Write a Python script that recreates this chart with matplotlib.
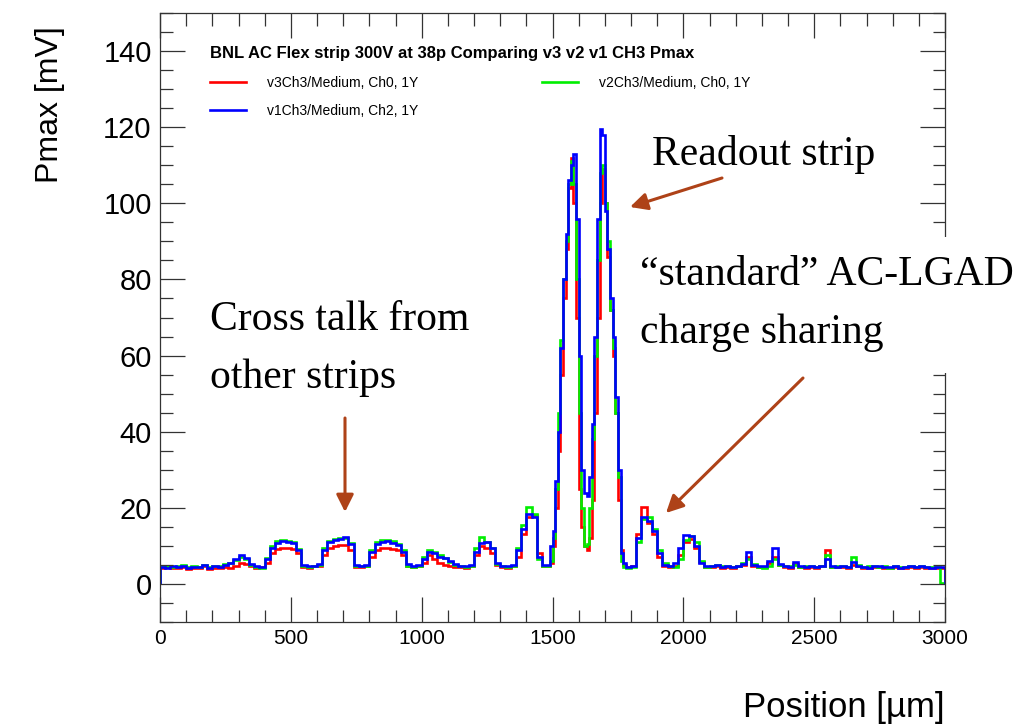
import numpy as np
import matplotlib.pyplot as plt
from matplotlib.patches import Rectangle
from matplotlib.ticker import MultipleLocator

# histogram binning (um): 20 um bins, 10 um bins around the readout strip
x_min, x_max = 0, 3000
fine_lo, fine_hi = 1480, 1780

# Pmax [mV] per bin
# 0 - 1480 um (20 um bins)
v3_left = [4.2, 4.4, 4.3, 4.1, 4.5, 4.0, 4.3, 4.2, 4.6, 4.0, 4.3, 4.2, 4.5, 4.2, 4.8, 5.5, 5.2, 4.6, 4.3, 4.4,
           5.5, 8.0, 9.2, 9.5, 9.4, 9.2, 8.0, 4.5, 4.3, 4.6, 4.8, 7.5, 9.5, 10.0, 10.2, 10.3, 9.0, 4.5, 4.4, 4.7,
           7.0, 9.0, 9.4, 9.5, 9.2, 9.0, 7.5, 4.8, 4.4, 4.6, 5.5, 7.5, 6.5, 5.5, 5.0, 4.7, 4.5, 4.4, 4.3, 4.6,
           7.5, 10.0, 9.5, 8.0, 5.0, 4.5, 4.3, 4.7, 7.0, 13.0, 17.5, 18.0, 8.0, 4.8]
v2_left = [4.6, 4.8, 4.5, 4.6, 4.9, 4.4, 4.7, 4.5, 5.0, 4.4, 4.8, 4.6, 5.2, 5.5, 6.3, 7.0, 6.5, 5.0, 4.5, 4.3,
           6.8, 10.0, 11.2, 11.5, 11.2, 11.0, 9.2, 4.8, 4.4, 4.7, 5.0, 9.5, 11.2, 11.8, 12.0, 12.2, 10.8, 4.8, 4.6, 4.8,
           9.0, 11.0, 11.5, 11.6, 11.2, 10.5, 8.8, 4.8, 4.5, 4.6, 7.0, 9.0, 8.5, 7.5, 6.8, 5.8, 5.0, 4.6, 4.4, 4.8,
           9.5, 12.3, 11.0, 9.5, 5.2, 4.6, 4.4, 4.8, 9.5, 15.5, 20.3, 18.5, 6.5, 4.6]
v1_left = [4.5, 4.3, 4.6, 4.4, 4.8, 4.2, 4.5, 4.4, 4.9, 4.3, 4.6, 4.5, 5.0, 5.6, 6.5, 7.5, 6.8, 5.2, 4.6, 4.5,
           6.5, 9.5, 10.8, 11.2, 11.0, 10.8, 9.0, 5.0, 4.6, 4.8, 5.2, 9.0, 11.0, 11.5, 11.8, 12.4, 10.5, 5.0, 4.8, 5.0,
           8.5, 10.5, 11.0, 11.3, 10.8, 10.2, 8.5, 5.2, 4.8, 4.9, 6.5, 8.5, 8.0, 7.2, 6.8, 6.0, 5.2, 4.8, 4.6, 5.0,
           8.5, 10.8, 11.0, 9.5, 5.5, 4.8, 4.6, 5.0, 9.0, 14.5, 18.5, 17.5, 7.0, 5.0]

# 1480 - 1780 um (10 um bins)
v3_peak = [4.8, 5.5, 10.0, 20.0, 35.0, 55.0, 75.0, 88.0, 104.0, 112.0, 100.0, 70.0, 25.0, 15.0, 10.0,
           9.0, 12.0, 22.0, 45.0, 70.0, 100.0, 109.0, 100.0, 86.0, 72.0, 60.0, 45.0, 22.0, 9.0, 5.0]
v2_peak = [4.6, 6.0, 12.0, 25.0, 45.0, 64.0, 80.0, 90.0, 105.0, 111.0, 105.0, 80.0, 45.0, 20.0, 10.0,
           10.5, 20.0, 38.0, 60.0, 85.0, 108.0, 110.0, 100.0, 90.0, 72.0, 62.0, 45.0, 28.0, 6.0, 4.5]
v1_peak = [5.0, 10.0, 14.0, 27.0, 40.0, 62.0, 80.0, 92.0, 106.0, 110.0, 113.0, 96.0, 60.0, 30.0, 24.0,
           23.0, 28.0, 42.0, 65.0, 96.0, 119.5, 118.0, 98.0, 88.0, 75.0, 65.0, 49.0, 30.0, 8.0, 5.5]

# 1780 - 3000 um (20 um bins)
v3_right = [4.5, 4.6, 13.0, 20.3, 16.0, 13.0, 7.0, 4.8, 4.5, 4.8, 7.5,
            11.0, 11.8, 9.5, 5.8, 4.5, 4.4, 4.6, 4.3, 4.5, 4.2, 4.6, 5.0, 7.0, 4.8, 4.4, 4.5, 5.5, 7.0, 5.0, 4.4,
            4.3, 5.2, 4.4, 4.2, 4.5, 4.3, 4.8, 8.9, 4.5, 4.4, 4.5, 4.2, 5.0, 4.6, 4.3, 4.1, 4.4, 4.5, 4.2, 4.3,
            4.4, 4.1, 4.3, 4.5, 4.2, 4.4, 4.3, 4.1, 4.3, 4.2]
v2_right = [4.2, 4.5, 11.0, 17.0, 17.5, 14.5, 9.0, 5.5, 4.6, 4.5, 6.5,
            11.5, 12.5, 11.0, 6.0, 4.4, 4.7, 5.0, 4.6, 4.8, 4.5, 4.6, 5.5, 6.5, 5.2, 4.5, 4.2, 4.8, 6.5, 5.0, 4.7,
            4.6, 5.0, 4.5, 4.8, 4.6, 4.4, 4.7, 7.6, 4.5, 4.6, 4.8, 4.5, 7.0, 5.0, 4.4, 4.6, 4.7, 4.5, 4.6, 4.3,
            4.7, 4.5, 4.4, 4.6, 4.5, 4.7, 4.4, 4.5, 4.5, 0.3]
v1_right = [4.5, 4.8, 12.0, 17.5, 16.5, 14.0, 8.0, 5.0, 4.8, 5.5, 9.5,
            12.8, 12.5, 10.0, 5.5, 4.8, 4.6, 4.9, 4.5, 4.7, 4.4, 4.8, 5.2, 8.5, 5.0, 4.6, 4.7, 6.0, 9.4, 5.2, 4.6,
            4.5, 5.8, 4.6, 4.4, 4.7, 4.5, 4.8, 6.5, 4.6, 4.5, 4.7, 4.4, 5.8, 4.8, 4.5, 4.3, 4.6, 4.7, 4.4, 4.5,
            4.6, 4.3, 4.5, 4.7, 4.4, 4.6, 4.5, 4.3, 4.5, 4.4]

labels = ["v3Ch3/Medium, Ch0, 1Y", "v1Ch3/Medium, Ch2, 1Y", "v2Ch3/Medium, Ch0, 1Y"]
colors = ["#ff0000", "#0000ff", "#00ee00"]
legend_title = "BNL AC Flex strip 300V at 38p Comparing v3 v2 v1 CH3 Pmax"

W, H = 1024, 725
plt.rcParams['font.family'] = ['Liberation Sans', 'DejaVu Sans']


def fig_xy(px, py):
    # image pixel (from top left) -> figure fraction
    return px / W, 1 - py / H


edges = np.concatenate([np.arange(x_min, fine_lo, 20),
                        np.arange(fine_lo, fine_hi, 10),
                        np.arange(fine_hi, x_max + 1, 20)])
v3 = v3_left + v3_peak + v3_right
v2 = v2_left + v2_peak + v2_right
v1 = v1_left + v1_peak + v1_right

fig = plt.figure(figsize=(W / 100, H / 100), dpi=100)
ax = fig.add_axes([160 / W, 103 / H, 785 / W, 609 / H])

# red below, blue on top
ax.stairs(v3, edges, color=colors[0], lw=1.9)
ax.stairs(v2, edges, color=colors[2], lw=1.9)
ax.stairs(v1, edges, color=colors[1], lw=1.9)

ax.set_xlim(x_min, x_max)
ax.set_ylim(-10, 150)
ax.xaxis.set_major_locator(MultipleLocator(500))
ax.xaxis.set_minor_locator(MultipleLocator(100))
ax.yaxis.set_major_locator(MultipleLocator(20))
ax.yaxis.set_minor_locator(MultipleLocator(5))
ax.tick_params(which='both', direction='in', top=True, right=True, width=0.9, color='#333333')
ax.tick_params(which='major', length=18)
ax.tick_params(which='minor', length=9)
ax.tick_params(axis='y', labelsize=21, pad=6)
ax.tick_params(axis='x', labelsize=15, pad=5)
for sp in ax.spines.values():
    sp.set_linewidth(0.9)
    sp.set_color('#333333')

fig.text(*fig_xy(945, 707), "Position [\u00b5m]", fontsize=25, ha='right', va='center')
fig.text(*fig_xy(50, 105), "Pmax [mV]", fontsize=23, rotation=90, ha='center', va='center')

leg = ax.legend(handles=[plt.Line2D([], [], color=c, lw=1.9) for c in colors],
                labels=labels, ncol=2, frameon=False,
                loc='upper left', bbox_to_anchor=fig_xy(203, 39), bbox_transform=fig.transFigure,
                borderpad=0, fontsize=10, handlelength=2.6, handletextpad=1.5,
                columnspacing=8.9, labelspacing=1.05, title=legend_title,
                title_fontproperties={'weight': 'bold', 'size': 12})
leg._legend_box.align = "left"

# slide annotations; white patch hides the frame behind the right-hand text
x0, y0 = fig_xy(636, 373)
x1, y1 = fig_xy(1012, 237)
fig.patches.append(Rectangle((x0, y0), x1 - x0, y1 - y0, transform=fig.transFigure,
                             facecolor='white', edgecolor='none', zorder=2))

serif = ['Liberation Serif', 'DejaVu Serif']
brown = '#ae4218'
notes = [(652, 155, "Readout strip"),
         (640, 275, "\u201cstandard\u201d AC-LGAD"),
         (640, 333, "charge sharing"),
         (210, 320, "Cross talk from"),
         (210, 378, "other strips")]
for px, py, txt in notes:
    fig.text(*fig_xy(px, py), txt, fontsize=30, family=serif, va='center', zorder=3)

arrows = [((345, 418), (345, 512)), ((722, 178), (630, 207)), ((803, 378), (666, 513))]
for tail, head in arrows:
    ax.annotate('', xy=fig_xy(*head), xytext=fig_xy(*tail), xycoords='figure fraction',
                textcoords='figure fraction', annotation_clip=False,
                arrowprops=dict(arrowstyle='-|>', color=brown, lw=2.2, mutation_scale=26,
                                shrinkA=0, shrinkB=0))

fig.savefig("out.png", dpi=100)
